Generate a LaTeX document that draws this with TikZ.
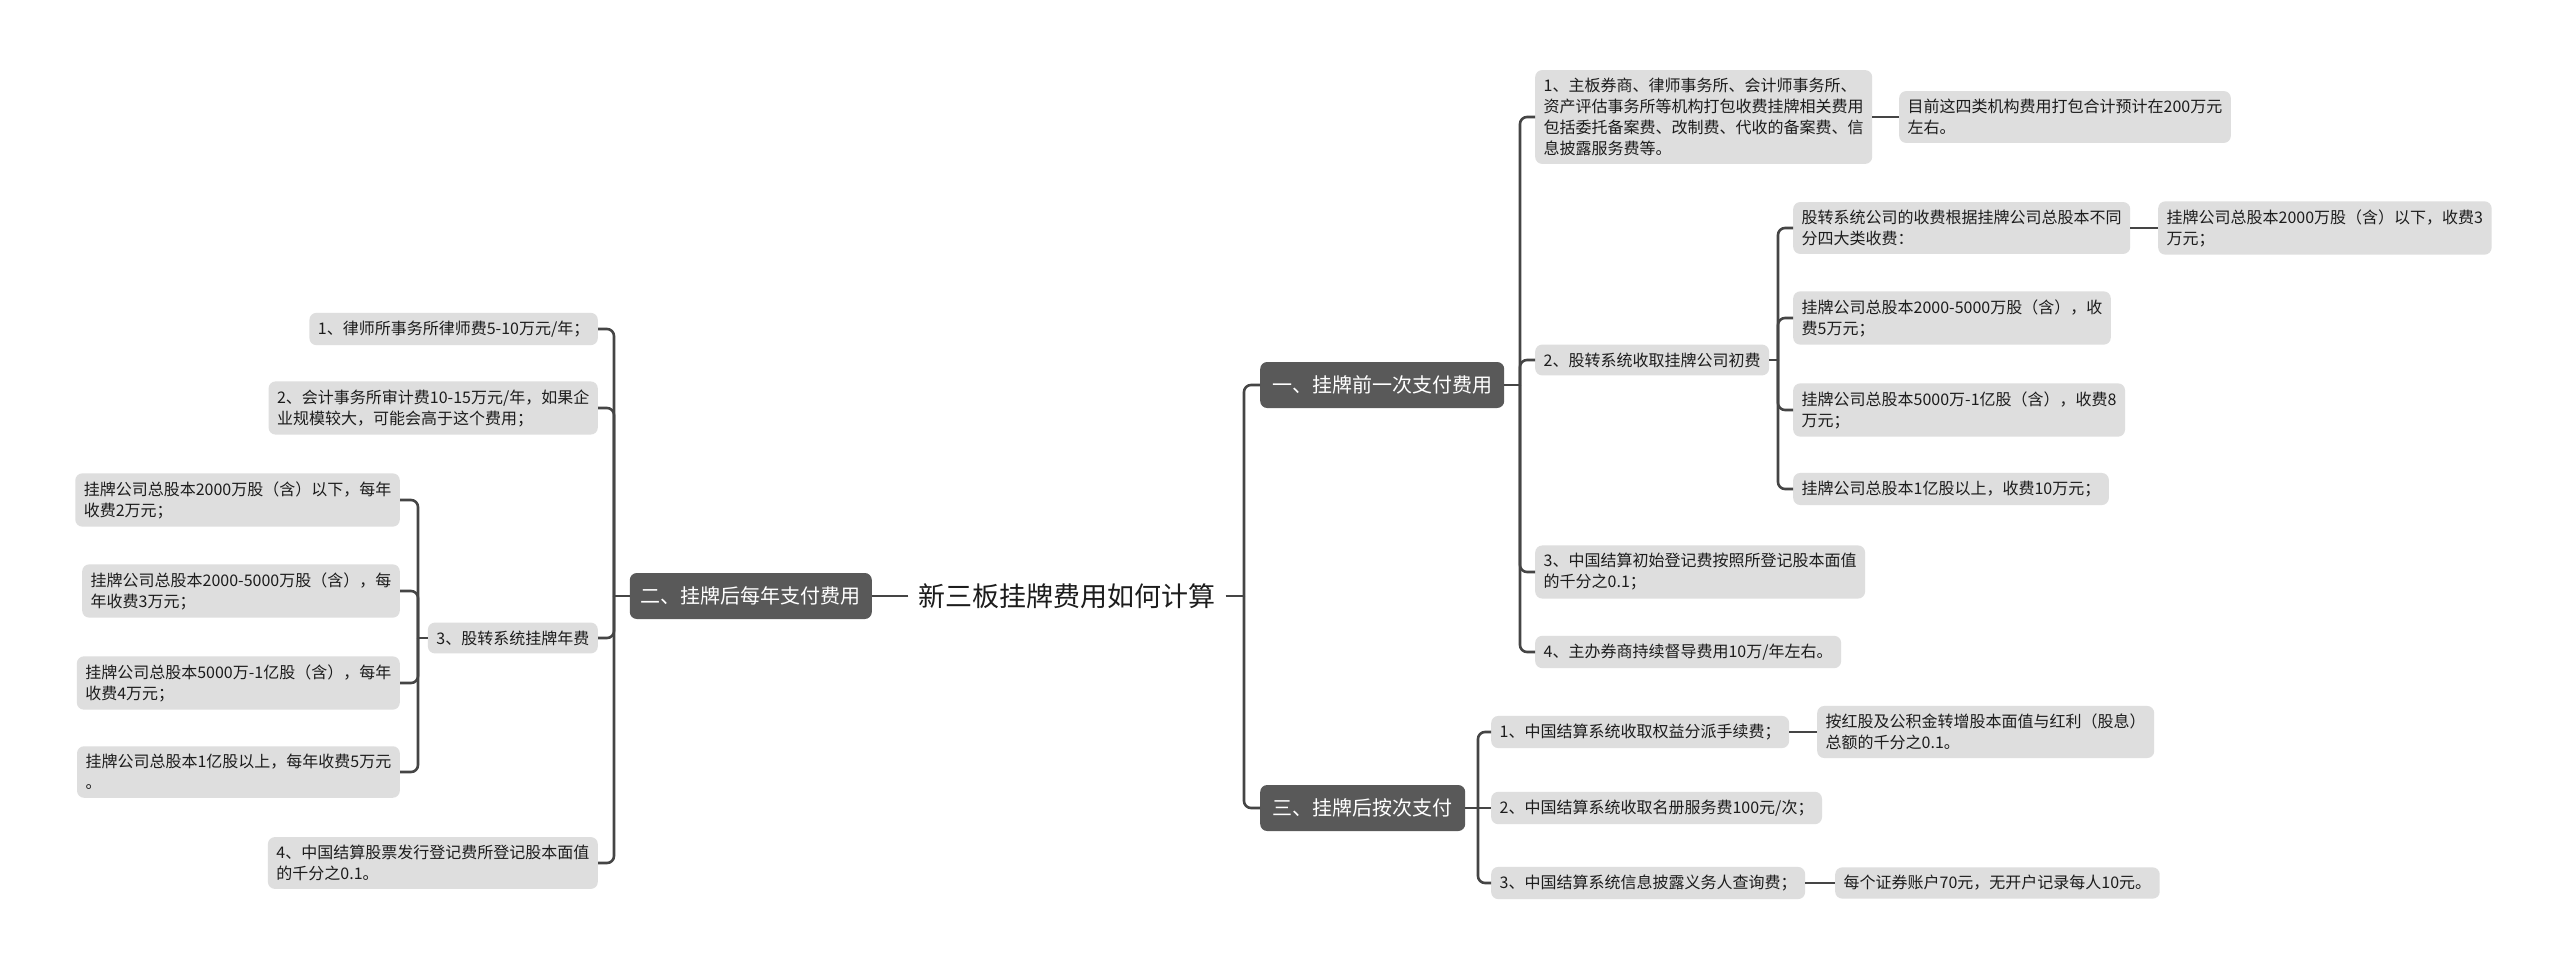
\documentclass[tikz,border=0pt]{standalone}
\usepackage{fontspec}
\newfontfamily\cjk{Noto Sans CJK SC}
\definecolor{leafgray}{HTML}{DEDEDE}
\definecolor{maingray}{HTML}{595959}
\definecolor{linegray}{HTML}{454545}
\definecolor{txt}{HTML}{1C1C1C}
\begin{document}
\begin{tikzpicture}[x=1pt,y=-1pt,
  leaf/.style={fill=leafgray, text=txt, rounded corners=7pt, align=left,
    font=\cjk\fontsize{16}{21}\selectfont, inner xsep=8.5pt, inner ysep=8pt},
  mainbox/.style={fill=maingray, text=white, rounded corners=7pt,
    font=\cjk\fontsize{20}{24}\selectfont, inner xsep=9pt, minimum height=46pt},
  rootbox/.style={text=txt, font=\cjk\fontsize{27}{32}\selectfont, inner xsep=10pt},
  conn/.style={draw=linegray, line width=2.6pt, rounded corners=7pt},
  link/.style={draw=linegray, line width=2.6pt}]
\fill[white] (0,0) rectangle (2560,969);
\useasboundingbox (0,0) rectangle (2560,969);

% root
\node[rootbox] (root) at (1067,596) {新三板挂牌费用如何计算};

% main branches
\node[mainbox, anchor=east, minimum width=242pt] (L) at (872,596) {二、挂牌后每年支付费用};
\node[mainbox, anchor=west, minimum width=244pt] (R1) at (1260,385) {一、挂牌前一次支付费用};
\node[mainbox, anchor=west, minimum width=205pt] (R3) at (1260,808) {三、挂牌后按次支付};

% right branch 1
\node[leaf, anchor=west] (R1a) at (1535,117) {1、主板券商、律师事务所、会计师事务所、\\资产评估事务所等机构打包收费挂牌相关费用\\包括委托备案费、改制费、代收的备案费、信\\息披露服务费等。};
\node[leaf, anchor=west] (R1a1) at (1899,117) {目前这四类机构费用打包合计预计在200万元\\左右。};
\node[leaf, anchor=west] (R1b) at (1535,360) {2、股转系统收取挂牌公司初费};
\node[leaf, anchor=west] (R1b1) at (1793,228) {股转系统公司的收费根据挂牌公司总股本不同\\分四大类收费：};
\node[leaf, anchor=west] (R1b1a) at (2158,228) {挂牌公司总股本2000万股（含）以下，收费3\\万元；};
\node[leaf, anchor=west] (R1b2) at (1793,318) {挂牌公司总股本2000-5000万股（含），收\\费5万元；};
\node[leaf, anchor=west] (R1b3) at (1793,410) {挂牌公司总股本5000万-1亿股（含），收费8\\万元；};
\node[leaf, anchor=west] (R1b4) at (1793,489) {挂牌公司总股本1亿股以上，收费10万元；};
\node[leaf, anchor=west] (R1c) at (1535,572) {3、中国结算初始登记费按照所登记股本面值\\的千分之0.1；};
\node[leaf, anchor=west] (R1d) at (1535,652) {4、主办券商持续督导费用10万/年左右。};

% right branch 3
\node[leaf, anchor=west] (R3a) at (1491,732) {1、中国结算系统收取权益分派手续费；};
\node[leaf, anchor=west] (R3a1) at (1817,732) {按红股及公积金转增股本面值与红利（股息）\\总额的千分之0.1。};
\node[leaf, anchor=west] (R3b) at (1491,808) {2、中国结算系统收取名册服务费100元/次；};
\node[leaf, anchor=west] (R3c) at (1491,883) {3、中国结算系统信息披露义务人查询费；};
\node[leaf, anchor=west] (R3c1) at (1835,883) {每个证券账户70元，无开户记录每人10元。};

% left branch
\node[leaf, anchor=east] (L1) at (598,329) {1、律师所事务所律师费5-10万元/年；};
\node[leaf, anchor=east] (L2) at (598,408) {2、会计事务所审计费10-15万元/年，如果企\\业规模较大，可能会高于这个费用；};
\node[leaf, anchor=east] (L3) at (598,638) {3、股转系统挂牌年费};
\node[leaf, anchor=east] (L4) at (598,863) {4、中国结算股票发行登记费所登记股本面值\\的千分之0.1。};
\node[leaf, anchor=east] (L3a) at (400,500) {挂牌公司总股本2000万股（含）以下，每年\\收费2万元；};
\node[leaf, anchor=east] (L3b) at (400,591) {挂牌公司总股本2000-5000万股（含），每\\年收费3万元；};
\node[leaf, anchor=east] (L3c) at (400,683) {挂牌公司总股本5000万-1亿股（含），每年\\收费4万元；};
\node[leaf, anchor=east] (L3d) at (400,772) {挂牌公司总股本1亿股以上，每年收费5万元\\。};

% trunk points
\coordinate (tR) at (1244,596);
\coordinate (t1) at (1520,385);
\coordinate (t1b) at (1778,360);
\coordinate (t3) at (1478,808);
\coordinate (tL) at (614,596);
\coordinate (tL3) at (418,638);

% connectors: root
\draw[link] (root.west) -- (L.east);
\draw[link] (root.east) -- (tR);
\draw[conn] (tR) |- (R1.west);
\draw[conn] (tR) |- (R3.west);

% branch 1
\draw[link] (R1.east) -- (t1);
\draw[conn] (t1) |- (R1a.west);
\draw[conn] (t1) |- (R1b.west);
\draw[conn] (t1) |- (R1c.west);
\draw[conn] (t1) |- (R1d.west);
\draw[link] (R1a.east) -- (R1a1.west);
\draw[link] (R1b.east) -- (t1b);
\draw[conn] (t1b) |- (R1b1.west);
\draw[conn] (t1b) |- (R1b2.west);
\draw[conn] (t1b) |- (R1b3.west);
\draw[conn] (t1b) |- (R1b4.west);
\draw[link] (R1b1.east) -- (R1b1a.west);

% branch 3
\draw[link] (R3.east) -- (t3);
\draw[conn] (t3) |- (R3a.west);
\draw[link] (t3) -- (R3b.west);
\draw[conn] (t3) |- (R3c.west);
\draw[link] (R3a.east) -- (R3a1.west);
\draw[link] (R3c.east) -- (R3c1.west);

% left branch
\draw[link] (L.west) -- (tL);
\draw[conn] (tL) |- (L1.east);
\draw[conn] (tL) |- (L2.east);
\draw[conn] (tL) |- (L3.east);
\draw[conn] (tL) |- (L4.east);
\draw[link] (L3.west) -- (tL3);
\draw[conn] (tL3) |- (L3a.east);
\draw[conn] (tL3) |- (L3b.east);
\draw[conn] (tL3) |- (L3c.east);
\draw[conn] (tL3) |- (L3d.east);
\end{tikzpicture}
\end{document}
